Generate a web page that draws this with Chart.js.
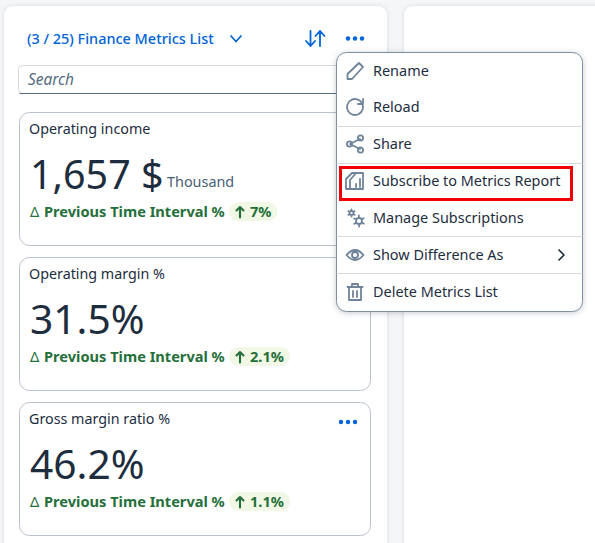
<!DOCTYPE html>
<html>
<head>
<meta charset="utf-8">
<title>Finance Metrics List</title>
<script src="https://cdn.jsdelivr.net/npm/chart.js"></script>
<style>
  html, body { margin: 0; padding: 0; background: #f5f6f7; }
  canvas { display: block; }
</style>
</head>
<body>
<canvas id="metricsChart" width="595" height="543"></canvas>
<script>
const listTitle = "(3 / 25) Finance Metrics List";
const searchHint = "Search";
const metricNames = ["Operating income", "Operating margin %", "Gross margin ratio %"];
const metricValues = [1657, 31.5, 46.2];
const metricUnits = [" $", "%", "%"];
const metricScales = ["Thousand", "", ""];
const deltaLabel = "Previous Time Interval %";
const deltaValues = [7, 2.1, 1.1];
const menuItems = ["Rename", "Reload", "Share", "Subscribe to Metrics Report", "Manage Subscriptions", "Show Difference As", "Delete Metrics List"];

const FONT = '"Noto Sans"';
const BLUE = "#0064d9";
const INK = "#1d2d3e";
const SLATE = "#556b82";
const ICON = "#6f849a";
const GREEN = "#256f3a";

const rrect = (ctx, x, y, w, h, r) => {
  ctx.beginPath();
  ctx.roundRect(x, y, w, h, r);
};

const text = (ctx, str, x, y, font, color) => {
  ctx.font = font;
  ctx.fillStyle = color;
  ctx.textAlign = "left";
  ctx.textBaseline = "alphabetic";
  ctx.fillText(str, x, y);
};

const dots = (ctx, cx, cy) => {
  ctx.fillStyle = BLUE;
  [-7, 0, 7].forEach((dx) => {
    ctx.beginPath();
    ctx.arc(cx + dx, cy, 2.2, 0, Math.PI * 2);
    ctx.fill();
  });
};

const stroke = (ctx, color, width, draw) => {
  ctx.save();
  ctx.strokeStyle = color;
  ctx.lineWidth = width;
  ctx.lineCap = "round";
  ctx.lineJoin = "round";
  ctx.beginPath();
  draw();
  ctx.stroke();
  ctx.restore();
};

// header, search field and side panels
const drawFrame = (ctx) => {
  ctx.fillStyle = "#f5f6f7";
  ctx.fillRect(0, 0, 595, 543);

  ctx.save();
  ctx.shadowColor = "rgba(85,107,130,0.18)";
  ctx.shadowBlur = 4;
  ctx.fillStyle = "#fff";
  rrect(ctx, 4, 6, 383, 560, 9);
  ctx.fill();
  rrect(ctx, 404, 6, 220, 560, 9);
  ctx.fill();
  ctx.restore();

  text(ctx, listTitle, 27, 44, `500 14.45px ${FONT}`, BLUE);
  stroke(ctx, BLUE, 1.7, () => {
    ctx.moveTo(231, 36);
    ctx.lineTo(236, 41.5);
    ctx.lineTo(241, 36);
  });
  stroke(ctx, BLUE, 1.8, () => {
    ctx.moveTo(310.5, 31);
    ctx.lineTo(310.5, 46);
    ctx.moveTo(306, 41);
    ctx.lineTo(310.5, 46);
    ctx.lineTo(315, 41);
    ctx.moveTo(320, 46);
    ctx.lineTo(320, 31);
    ctx.moveTo(315.5, 36);
    ctx.lineTo(320, 31);
    ctx.lineTo(324.5, 36);
  });
  dots(ctx, 355, 38.5);

  ctx.fillStyle = "#fff";
  ctx.strokeStyle = "#d5dadf";
  ctx.lineWidth = 1;
  rrect(ctx, 18.5, 65.5, 340, 28, 4);
  ctx.fill();
  ctx.stroke();
  stroke(ctx, SLATE, 1, () => {
    ctx.moveTo(20, 93.5);
    ctx.lineTo(358, 93.5);
  });
  text(ctx, searchHint, 28, 85, `italic 15.4px ${FONT}`, SLATE);
};

const drawCard = (ctx, i, cy) => {
  const top = cy - 66.5;
  ctx.fillStyle = "#fff";
  ctx.strokeStyle = "#b9c2cb";
  ctx.lineWidth = 1;
  rrect(ctx, 19.5, top, 351, 133, 10);
  ctx.fill();
  ctx.stroke();

  text(ctx, metricNames[i], 29, top + 21.5, `14.3px ${FONT}`, INK);

  const big = metricValues[i].toLocaleString("en-US") + metricUnits[i];
  const bigSize = metricScales[i] ? 39.4 : 40.7;
  text(ctx, big, 30, top + 76, `${bigSize}px ${FONT}`, INK);
  if (metricScales[i]) {
    text(ctx, metricScales[i], 167, top + 74.5, `14.4px ${FONT}`, "#475e75");
  }

  text(ctx, "\u0394", 30, top + 104.5, `14.5px ${FONT}`, GREEN);
  text(ctx, deltaLabel, 44, top + 104.5, `bold 14.6px ${FONT}`, GREEN);
  const start = 229;
  const label = deltaValues[i] + "%";
  ctx.font = `bold 14.6px ${FONT}`;
  const pillW = ctx.measureText(label).width + 27;
  ctx.fillStyle = "#f1f8e5";
  rrect(ctx, start, top + 89.5, pillW, 19, 9.5);
  ctx.fill();
  stroke(ctx, GREEN, 2.1, () => {
    ctx.moveTo(240, top + 105);
    ctx.lineTo(240, top + 94.5);
    ctx.moveTo(236.5, top + 98);
    ctx.lineTo(240, top + 94.5);
    ctx.lineTo(243.5, top + 98);
  });
  text(ctx, label, 250, top + 104.5, `bold 14.6px ${FONT}`, GREEN);
};

const drawMenuIcon = (ctx, i, cy) => {
  const c = 355;
  stroke(ctx, ICON, 1.8, () => {
    if (i === 0) {
      ctx.moveTo(c - 7.5, cy + 8);
      ctx.lineTo(c - 7.5, cy + 3);
      ctx.lineTo(c + 4, cy - 8);
      ctx.lineTo(c + 8, cy - 4);
      ctx.lineTo(c - 3, cy + 8);
      ctx.closePath();
    } else if (i === 1) {
      ctx.arc(c, cy, 8, -0.5, Math.PI * 1.8 - 0.1 + 0.95, false);
      ctx.moveTo(c + 8, cy - 8);
      ctx.lineTo(c + 8, cy - 3);
      ctx.lineTo(c + 3, cy - 3);
    } else if (i === 2) {
      ctx.moveTo(c + 5, cy - 5);
      ctx.lineTo(c - 5, cy);
      ctx.lineTo(c + 5, cy + 5);
      ctx.moveTo(c - 3, cy);
      ctx.arc(c - 5.5, cy, 2.6, 0, Math.PI * 2);
      ctx.moveTo(c + 8, cy - 6);
      ctx.arc(c + 5.5, cy - 6, 2.6, 0, Math.PI * 2);
      ctx.moveTo(c + 8, cy + 6);
      ctx.arc(c + 5.5, cy + 6, 2.6, 0, Math.PI * 2);
    } else if (i === 3) {
      ctx.moveTo(c - 9, cy + 8);
      ctx.lineTo(c - 9, cy - 2);
      ctx.lineTo(c - 3, cy - 8);
      ctx.lineTo(c + 8, cy - 8);
      ctx.lineTo(c + 8, cy + 8);
      ctx.closePath();
      ctx.moveTo(c - 5, cy + 8);
      ctx.lineTo(c - 5, cy - 1);
      ctx.lineTo(c + 1, cy - 8);
      ctx.moveTo(c + 1, cy + 6);
      ctx.lineTo(c + 1, cy + 3);
      ctx.moveTo(c + 5, cy + 6);
      ctx.lineTo(c + 5, cy - 2);
    } else if (i === 4) {
      ctx.moveTo(c - 1.5, cy - 5);
      ctx.arc(c - 3.5, cy - 5, 2, 0, Math.PI * 2);
      ctx.moveTo(c + 7, cy + 3);
      ctx.arc(c + 4, cy + 3, 3, 0, Math.PI * 2);
      [0, 1, 2, 3, 4, 5].forEach((k) => {
        const a = (k * Math.PI) / 3 + 0.5;
        ctx.moveTo(c + 4 + Math.cos(a) * 4, cy + 3 + Math.sin(a) * 4);
        ctx.lineTo(c + 4 + Math.cos(a) * 5.5, cy + 3 + Math.sin(a) * 5.5);
        ctx.moveTo(c - 3.5 + Math.cos(a) * 3, cy - 5 + Math.sin(a) * 3);
        ctx.lineTo(c - 3.5 + Math.cos(a) * 3.6, cy - 5 + Math.sin(a) * 3.6);
      });
    } else if (i === 5) {
      ctx.moveTo(c - 8.5, cy);
      ctx.quadraticCurveTo(c, cy - 10, c + 8.5, cy);
      ctx.quadraticCurveTo(c, cy + 10, c - 8.5, cy);
      ctx.moveTo(c + 3, cy);
      ctx.arc(c, cy, 3, 0, Math.PI * 2);
    } else {
      ctx.moveTo(c - 7.5, cy - 5);
      ctx.lineTo(c + 7.5, cy - 5);
      ctx.moveTo(c - 3, cy - 5);
      ctx.lineTo(c - 3, cy - 8);
      ctx.lineTo(c + 3, cy - 8);
      ctx.lineTo(c + 3, cy - 5);
      ctx.moveTo(c - 6, cy - 5);
      ctx.lineTo(c - 6, cy + 8);
      ctx.lineTo(c + 6, cy + 8);
      ctx.lineTo(c + 6, cy - 5);
      ctx.moveTo(c - 2, cy - 1);
      ctx.lineTo(c - 2, cy + 5);
      ctx.moveTo(c + 2, cy - 1);
      ctx.lineTo(c + 2, cy + 5);
    }
  });
};

const drawMenu = (ctx) => {
  ctx.save();
  ctx.shadowColor = "rgba(40,60,80,0.3)";
  ctx.shadowBlur = 6;
  ctx.shadowOffsetY = 1;
  ctx.fillStyle = "#fff";
  rrect(ctx, 336.5, 52.5, 246, 259, 10);
  ctx.fill();
  ctx.restore();
  ctx.strokeStyle = "#7f90a1";
  ctx.lineWidth = 1;
  rrect(ctx, 336.5, 52.5, 246, 259, 10);
  ctx.stroke();

  const rows = [71, 107, 144, 181, 218, 255, 292];
  menuItems.forEach((item, i) => {
    text(ctx, item, 373, rows[i] + 5, `14.45px ${FONT}`, INK);
    drawMenuIcon(ctx, i, rows[i]);
  });
  [126.5, 163.5, 236.5, 273.5].forEach((y) => {
    stroke(ctx, "#d5dadf", 1, () => {
      ctx.moveTo(337, y);
      ctx.lineTo(582, y);
    });
  });
  stroke(ctx, INK, 1.7, () => {
    ctx.moveTo(559, 250);
    ctx.lineTo(564, 255);
    ctx.lineTo(559, 260);
  });
  ctx.strokeStyle = "#f00000";
  ctx.lineWidth = 3;
  ctx.strokeRect(340.5, 167.5, 231, 32);
};

const panelPlugin = {
  id: "panel",
  beforeDatasetsDraw: (chart) => drawFrame(chart.ctx),
  afterDatasetsDraw: (chart) => {
    const { ctx, scales: { y } } = chart;
    metricNames.forEach((_, i) => drawCard(ctx, i, y.getPixelForValue(i)));
    dots(ctx, 348, y.getPixelForValue(2) - 47);
    drawMenu(ctx);
  },
};

const canvas = document.getElementById("metricsChart");
canvas.getContext("2d", { alpha: false });

new Chart(canvas, {
  type: "bar",
  data: {
    labels: metricNames,
    datasets: [{ data: metricValues, backgroundColor: "transparent", borderWidth: 0 }],
  },
  plugins: [panelPlugin],
  options: {
    indexAxis: "y",
    responsive: false,
    animation: false,
    layout: { padding: { top: 106.5, bottom: 1.5, left: 0, right: 0 } },
    plugins: { legend: { display: false }, tooltip: { enabled: false } },
    scales: {
      x: { display: false, beginAtZero: true },
      y: { display: false, offset: true },
    },
  },
});
</script>
</body>
</html>
